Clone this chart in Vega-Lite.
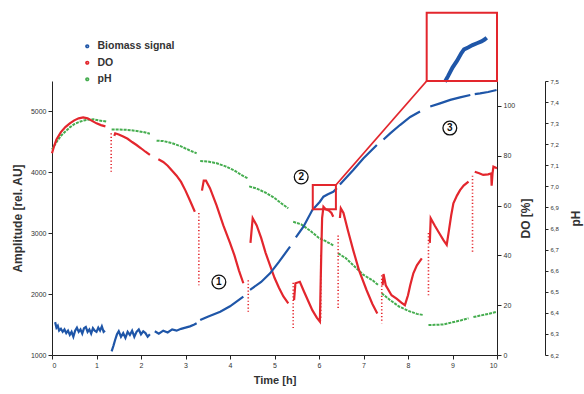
{
  "$schema": "https://vega.github.io/schema/vega-lite/v6.json",
  "width": 445,
  "height": 274,
  "autosize": "none",
  "padding": {"left": 52, "top": 81, "right": 87, "bottom": 39},
  "background": "white",
  "config": {
    "view": {"stroke": null},
    "font": "Liberation Sans",
    "axis": {"grid": false, "domainColor": "#222", "tickColor": "#222", "labelColor": "#333", "labelFontSize": 7, "tickSize": 4, "titleFontSize": 12, "titleFontWeight": "bold", "titleColor": "#333", "labelFont": "Liberation Sans", "titleFont": "Liberation Sans"}
  },
  "datasets": {
    "bio": [
      {"s":1,"t":0.07,"v":1540},{"s":1,"t":0.1,"v":1450},{"s":1,"t":0.13,"v":1480},{"s":1,"t":0.16,"v":1400},{"s":1,"t":0.2,"v":1430},{"s":1,"t":0.24,"v":1380},{"s":1,"t":0.28,"v":1420},{"s":1,"t":0.32,"v":1360},{"s":1,"t":0.36,"v":1400},{"s":1,"t":0.4,"v":1330},{"s":1,"t":0.44,"v":1380},{"s":1,"t":0.48,"v":1300},{"s":1,"t":0.52,"v":1400},{"s":1,"t":0.56,"v":1450},{"s":1,"t":0.6,"v":1380},{"s":1,"t":0.64,"v":1420},{"s":1,"t":0.68,"v":1350},{"s":1,"t":0.72,"v":1440},{"s":1,"t":0.76,"v":1460},{"s":1,"t":0.8,"v":1380},{"s":1,"t":0.84,"v":1420},{"s":1,"t":0.88,"v":1350},{"s":1,"t":0.92,"v":1440},{"s":1,"t":0.96,"v":1400},{"s":1,"t":1.0,"v":1380},{"s":1,"t":1.04,"v":1450},{"s":1,"t":1.08,"v":1400},{"s":1,"t":1.12,"v":1470},{"s":1,"t":1.16,"v":1380},{"s":1,"t":1.19,"v":1400},
      {"s":2,"t":1.34,"v":1060},{"s":2,"t":1.38,"v":1150},{"s":2,"t":1.42,"v":1250},{"s":2,"t":1.46,"v":1340},{"s":2,"t":1.5,"v":1390},{"s":2,"t":1.55,"v":1300},{"s":2,"t":1.6,"v":1360},{"s":2,"t":1.65,"v":1280},{"s":2,"t":1.7,"v":1380},{"s":2,"t":1.75,"v":1330},{"s":2,"t":1.8,"v":1400},{"s":2,"t":1.85,"v":1300},{"s":2,"t":1.9,"v":1380},{"s":2,"t":1.95,"v":1420},{"s":2,"t":2.0,"v":1340},{"s":2,"t":2.05,"v":1390},{"s":2,"t":2.1,"v":1360},{"s":2,"t":2.15,"v":1300},{"s":2,"t":2.2,"v":1340},
      {"s":3,"t":2.31,"v":1390},{"s":3,"t":2.4,"v":1350},{"s":3,"t":2.5,"v":1400},{"s":3,"t":2.6,"v":1370},{"s":3,"t":2.7,"v":1420},{"s":3,"t":2.8,"v":1400},{"s":3,"t":2.9,"v":1430},{"s":3,"t":3.0,"v":1450},{"s":3,"t":3.1,"v":1470},{"s":3,"t":3.2,"v":1500},{"s":3,"t":3.25,"v":1520},
      {"s":4,"t":3.33,"v":1575},{"s":4,"t":3.5,"v":1630},{"s":4,"t":3.78,"v":1711},{"s":4,"t":4.0,"v":1800},{"s":4,"t":4.3,"v":1957},
      {"s":5,"t":4.45,"v":2070},{"s":5,"t":4.7,"v":2200},{"s":5,"t":4.9,"v":2341},{"s":5,"t":5.1,"v":2530},{"s":5,"t":5.35,"v":2779},
      {"s":6,"t":5.48,"v":2930},{"s":6,"t":5.65,"v":3107},{"s":6,"t":5.85,"v":3380},{"s":6,"t":6.02,"v":3517},{"s":6,"t":6.1,"v":3600},{"s":6,"t":6.2,"v":3640},{"s":6,"t":6.32,"v":3680},{"s":6,"t":6.4,"v":3740},
      {"s":7,"t":6.47,"v":3800},{"s":7,"t":6.77,"v":4038},{"s":7,"t":7.0,"v":4230},{"s":7,"t":7.3,"v":4449},
      {"s":8,"t":7.45,"v":4540},{"s":8,"t":7.6,"v":4640},{"s":8,"t":7.82,"v":4777},{"s":8,"t":8.05,"v":4910},{"s":8,"t":8.27,"v":5000},
      {"s":9,"t":8.5,"v":5080},{"s":9,"t":8.72,"v":5133},{"s":9,"t":8.95,"v":5190},{"s":9,"t":9.17,"v":5231},{"s":9,"t":9.4,"v":5270},
      {"s":10,"t":9.5,"v":5285},{"s":10,"t":9.62,"v":5297},{"s":10,"t":9.8,"v":5320},{"s":10,"t":9.99,"v":5352}
    ],
    "inset": [
      {"t":8.83,"v":5488},{"t":8.9,"v":5580},{"t":9.0,"v":5720},{"t":9.1,"v":5830},{"t":9.2,"v":5960},{"t":9.26,"v":6020},{"t":9.35,"v":6050},{"t":9.45,"v":6090},{"t":9.55,"v":6120},{"t":9.65,"v":6150},{"t":9.72,"v":6180},{"t":9.77,"v":6210}
    ],
    "boxes": [
      {"t1":5.86,"t2":6.38,"v1":3393,"v2":3792},
      {"t1":8.42,"t2":10.0,"v1":5500,"v2":6621}
    ],
    "connector": [{"t1":6.38,"v1":3792,"t2":8.42,"v2":5500}],
    "marks": [
      {"label":"1","t":3.75,"v":2199},
      {"label":"2","t":5.6,"v":3923},
      {"label":"3","t":8.94,"v":4727}
    ],
    "do": [
      {"s":1,"t":0.0,"v":81},{"s":1,"t":0.05,"v":84},{"s":1,"t":0.1,"v":86.5},{"s":1,"t":0.2,"v":89.5},{"s":1,"t":0.3,"v":91.5},{"s":1,"t":0.4,"v":93},{"s":1,"t":0.5,"v":94.2},{"s":1,"t":0.6,"v":95},{"s":1,"t":0.7,"v":95.4},{"s":1,"t":0.8,"v":95},{"s":1,"t":0.9,"v":94},{"s":1,"t":1.0,"v":93},{"s":1,"t":1.1,"v":92.3},{"s":1,"t":1.2,"v":91.8},
      {"s":2,"t":1.4,"v":88},{"s":2,"t":1.42,"v":89},{"s":2,"t":1.5,"v":88.5},{"s":2,"t":1.6,"v":87.7},{"s":2,"t":1.7,"v":86.8},{"s":2,"t":1.8,"v":85.5},{"s":2,"t":1.9,"v":84.3},{"s":2,"t":2.0,"v":83},{"s":2,"t":2.1,"v":81.6},{"s":2,"t":2.2,"v":80.3},
      {"s":3,"t":2.39,"v":78.6},{"s":3,"t":2.5,"v":77.5},{"s":3,"t":2.6,"v":76},{"s":3,"t":2.7,"v":74},{"s":3,"t":2.8,"v":72},{"s":3,"t":2.9,"v":69.5},{"s":3,"t":3.0,"v":66},{"s":3,"t":3.1,"v":62},{"s":3,"t":3.21,"v":57.5},
      {"s":4,"t":3.37,"v":66},{"s":4,"t":3.41,"v":70},{"s":4,"t":3.46,"v":70},{"s":4,"t":3.55,"v":67},{"s":4,"t":3.7,"v":60},{"s":4,"t":3.85,"v":52},{"s":4,"t":4.0,"v":45},{"s":4,"t":4.1,"v":40},{"s":4,"t":4.2,"v":34},{"s":4,"t":4.3,"v":28.8},
      {"s":5,"t":4.46,"v":45},{"s":5,"t":4.51,"v":54.9},{"s":5,"t":4.6,"v":52},{"s":5,"t":4.7,"v":47},{"s":5,"t":4.8,"v":41},{"s":5,"t":4.9,"v":36},{"s":5,"t":5.0,"v":31},{"s":5,"t":5.1,"v":27},{"s":5,"t":5.2,"v":23.5},{"s":5,"t":5.31,"v":20.7},
      {"s":6,"t":5.44,"v":22},{"s":6,"t":5.47,"v":28.8},{"s":6,"t":5.57,"v":29.4},{"s":6,"t":5.65,"v":26},{"s":6,"t":5.75,"v":22},{"s":6,"t":5.85,"v":18},{"s":6,"t":5.95,"v":15},{"s":6,"t":6.02,"v":13.4},{"s":6,"t":6.05,"v":40},{"s":6,"t":6.07,"v":55},{"s":6,"t":6.1,"v":59.5},{"s":6,"t":6.15,"v":58.5},{"s":6,"t":6.22,"v":58},{"s":6,"t":6.28,"v":57},{"s":6,"t":6.32,"v":55.5},
      {"s":7,"t":6.47,"v":55},{"s":7,"t":6.49,"v":58.9},{"s":7,"t":6.55,"v":57},{"s":7,"t":6.65,"v":50},{"s":7,"t":6.77,"v":42},{"s":7,"t":6.9,"v":34},{"s":7,"t":7.07,"v":26},{"s":7,"t":7.2,"v":20.5},{"s":7,"t":7.31,"v":16.7},
      {"s":8,"t":7.43,"v":28},{"s":8,"t":7.45,"v":32.5},{"s":8,"t":7.5,"v":28},{"s":8,"t":7.63,"v":24},{"s":8,"t":7.75,"v":22.5},{"s":8,"t":7.85,"v":21},{"s":8,"t":7.93,"v":20},{"s":8,"t":8.0,"v":24},{"s":8,"t":8.05,"v":28},{"s":8,"t":8.12,"v":32.8},{"s":8,"t":8.2,"v":36},{"s":8,"t":8.31,"v":38.8},
      {"s":9,"t":8.49,"v":45},{"s":9,"t":8.51,"v":54.9},{"s":9,"t":8.6,"v":52},{"s":9,"t":8.7,"v":49},{"s":9,"t":8.8,"v":46},{"s":9,"t":8.87,"v":44.2},{"s":9,"t":8.92,"v":50},{"s":9,"t":8.97,"v":56},{"s":9,"t":9.02,"v":60.9},{"s":9,"t":9.1,"v":64},{"s":9,"t":9.17,"v":66.2},{"s":9,"t":9.25,"v":68},{"s":9,"t":9.36,"v":69.6},
      {"s":10,"t":9.5,"v":73.6},{"s":10,"t":9.6,"v":73},{"s":10,"t":9.69,"v":72.3},{"s":10,"t":9.8,"v":72.5},{"s":10,"t":9.87,"v":72.9},{"s":10,"t":9.88,"v":68},{"s":10,"t":9.9,"v":73},{"s":10,"t":9.92,"v":75.6},{"s":10,"t":10.0,"v":75}
    ],
    "drops": [
      {"t":1.33,"hi":89,"lo":73.6},
      {"t":3.3,"hi":57,"lo":28},
      {"t":4.41,"hi":30,"lo":17.4},
      {"t":5.42,"hi":29,"lo":10.8},
      {"t":6.04,"hi":40,"lo":14},
      {"t":6.43,"hi":48,"lo":18},
      {"t":7.41,"hi":32,"lo":12.7},
      {"t":8.46,"hi":49,"lo":23.4},
      {"t":9.45,"hi":72,"lo":40.8}
    ],
    "ph": [
      {"s":1,"t":0.0,"v":7.175},{"s":1,"t":0.1,"v":7.21},{"s":1,"t":0.2,"v":7.24},{"s":1,"t":0.3,"v":7.26},{"s":1,"t":0.4,"v":7.28},{"s":1,"t":0.5,"v":7.295},{"s":1,"t":0.6,"v":7.305},{"s":1,"t":0.7,"v":7.312},{"s":1,"t":0.8,"v":7.316},{"s":1,"t":0.93,"v":7.318},{"s":1,"t":1.05,"v":7.313},{"s":1,"t":1.15,"v":7.31},{"s":1,"t":1.23,"v":7.307},
      {"s":2,"t":1.34,"v":7.27},{"s":2,"t":1.5,"v":7.27},{"s":2,"t":1.7,"v":7.268},{"s":2,"t":1.9,"v":7.263},{"s":2,"t":2.05,"v":7.258},{"s":2,"t":2.2,"v":7.25},
      {"s":3,"t":2.35,"v":7.217},{"s":3,"t":2.5,"v":7.215},{"s":3,"t":2.7,"v":7.205},{"s":3,"t":2.9,"v":7.19},{"s":3,"t":3.1,"v":7.17},{"s":3,"t":3.25,"v":7.157},
      {"s":4,"t":3.33,"v":7.12},{"s":4,"t":3.5,"v":7.118},{"s":4,"t":3.7,"v":7.11},{"s":4,"t":3.9,"v":7.095},{"s":4,"t":4.1,"v":7.075},{"s":4,"t":4.25,"v":7.055},{"s":4,"t":4.4,"v":7.038},
      {"s":5,"t":4.43,"v":7.0},{"s":5,"t":4.6,"v":6.99},{"s":5,"t":4.8,"v":6.97},{"s":5,"t":5.0,"v":6.945},{"s":5,"t":5.15,"v":6.92},{"s":5,"t":5.31,"v":6.896},
      {"s":6,"t":5.42,"v":6.832},{"s":6,"t":5.6,"v":6.82},{"s":6,"t":5.8,"v":6.79},{"s":6,"t":6.0,"v":6.755},{"s":6,"t":6.15,"v":6.74},{"s":6,"t":6.32,"v":6.72},
      {"s":7,"t":6.43,"v":6.682},{"s":7,"t":6.6,"v":6.66},{"s":7,"t":6.8,"v":6.62},{"s":7,"t":7.0,"v":6.58},{"s":7,"t":7.2,"v":6.555},{"s":7,"t":7.33,"v":6.532},
      {"s":8,"t":7.41,"v":6.493},{"s":8,"t":7.6,"v":6.46},{"s":8,"t":7.8,"v":6.43},{"s":8,"t":8.0,"v":6.41},{"s":8,"t":8.2,"v":6.395},{"s":8,"t":8.34,"v":6.39},
      {"s":9,"t":8.46,"v":6.342},{"s":9,"t":8.6,"v":6.343},{"s":9,"t":8.8,"v":6.345},{"s":9,"t":9.0,"v":6.355},{"s":9,"t":9.2,"v":6.365},{"s":9,"t":9.36,"v":6.374},
      {"s":10,"t":9.47,"v":6.38},{"s":10,"t":9.6,"v":6.386},{"s":10,"t":9.8,"v":6.395},{"s":10,"t":9.99,"v":6.405}
    ]
  },
  "resolve": {"scale": {"y": "independent"}, "axis": {"y": "independent"}},
  "layer": [
    {
      "data": {"name": "ph"},
      "mark": {"type": "line", "strokeWidth": 2, "strokeDash": [3, 1]},
      "encoding": {
        "x": {"field": "t", "type": "quantitative", "scale": {"domain": [0, 10], "nice": false}},
        "y": {"field": "v", "type": "quantitative", "scale": {"domain": [6.2, 7.5], "nice": false, "zero": false},
          "axis": {"orient": "right", "offset": 48, "title": "pH", "values": [6.2,6.3,6.4,6.5,6.6,6.7,6.8,6.9,7.0,7.1,7.2,7.3,7.4,7.5], "labelExpr": "replace(format(datum.value, '.1f'), '.', ',')", "labelFontSize": 6, "tickSize": 3, "titleAngle": -90, "titlePadding": 24}},
        "detail": {"field": "s"},
        "color": {"datum": "pH"}
      }
    },
    {
      "layer": [
        {
          "data": {"name": "do"},
          "mark": {"type": "line", "strokeWidth": 2.2},
          "encoding": {
            "x": {"field": "t", "type": "quantitative"},
            "y": {"field": "v", "type": "quantitative", "scale": {"domain": [0, 110], "nice": false},
              "axis": {"orient": "right", "title": "DO [%]", "values": [0,10,20,30,40,50,60,70,80,90,100,110], "titleAngle": -90, "titlePadding": 18}},
            "detail": {"field": "s"},
            "color": {"datum": "DO"}
          }
        },
        {
          "data": {"name": "drops"},
          "mark": {"type": "rule", "color": "#e3262d", "strokeWidth": 1.6, "strokeDash": [1.2, 2.2]},
          "encoding": {
            "x": {"field": "t", "type": "quantitative"},
            "y": {"field": "hi", "type": "quantitative"},
            "y2": {"field": "lo"}
          }
        }
      ]
    },
    {
      "layer": [
        {
          "data": {"name": "bio"},
          "mark": {"type": "line", "strokeWidth": 2.2},
          "encoding": {
            "x": {"field": "t", "type": "quantitative", "scale": {"domain": [0, 10], "nice": false},
              "axis": {"title": "Time [h]", "values": [0,1,2,3,4,5,6,7,8,9,10], "titleFontSize": 11, "titlePadding": 6}},
            "y": {"field": "v", "type": "quantitative", "scale": {"domain": [1000, 5500], "nice": false, "zero": false},
              "axis": {"orient": "left", "title": "Amplitude [rel. AU]", "format": "d", "values": [1000,1500,2000,2500,3000,3500,4000,4500,5000,5500], "titlePadding": 6}},
            "detail": {"field": "s"},
            "color": {"datum": "Biomass signal", "type": "nominal",
              "scale": {"domain": ["Biomass signal", "DO", "pH"], "range": ["#1f56a8", "#e3262d", "#45ad4f"]},
              "legend": {"title": null, "orient": "none", "legendX": 30, "legendY": -40, "symbolType": "circle", "symbolSize": 3, "symbolStrokeWidth": 2.5, "symbolDash": [], "labelFontSize": 10.5, "labelFontWeight": "bold", "labelColor": "#333", "labelFont": "Liberation Sans", "rowPadding": 3.5, "labelOffset": 5}}
          }
        },
        {
          "data": {"name": "inset"},
          "mark": {"type": "line", "strokeWidth": 4, "color": "#1f56a8"},
          "encoding": {
            "x": {"field": "t", "type": "quantitative"},
            "y": {"field": "v", "type": "quantitative"}
          }
        },
        {
          "data": {"name": "boxes"},
          "mark": {"type": "rect", "fill": null, "fillOpacity": 0, "stroke": "#e3262d", "strokeWidth": 2},
          "encoding": {
            "x": {"field": "t1", "type": "quantitative"},
            "x2": {"field": "t2"},
            "y": {"field": "v1", "type": "quantitative"},
            "y2": {"field": "v2"}
          }
        },
        {
          "data": {"name": "connector"},
          "mark": {"type": "rule", "color": "#e3262d", "strokeWidth": 1.8},
          "encoding": {
            "x": {"field": "t1", "type": "quantitative"},
            "x2": {"field": "t2"},
            "y": {"field": "v1", "type": "quantitative"},
            "y2": {"field": "v2"}
          }
        },
        {
          "data": {"name": "marks"},
          "mark": {"type": "point", "shape": "circle", "size": 190, "filled": false, "stroke": "#111", "strokeWidth": 1.3, "fill": "white", "fillOpacity": 1},
          "encoding": {
            "x": {"field": "t", "type": "quantitative"},
            "y": {"field": "v", "type": "quantitative"}
          }
        },
        {
          "data": {"name": "marks"},
          "mark": {"type": "text", "fontSize": 10, "fontWeight": "bold", "color": "#111", "baseline": "middle", "align": "center"},
          "encoding": {
            "x": {"field": "t", "type": "quantitative"},
            "y": {"field": "v", "type": "quantitative"},
            "text": {"field": "label"}
          }
        }
      ]
    }
  ]
}
